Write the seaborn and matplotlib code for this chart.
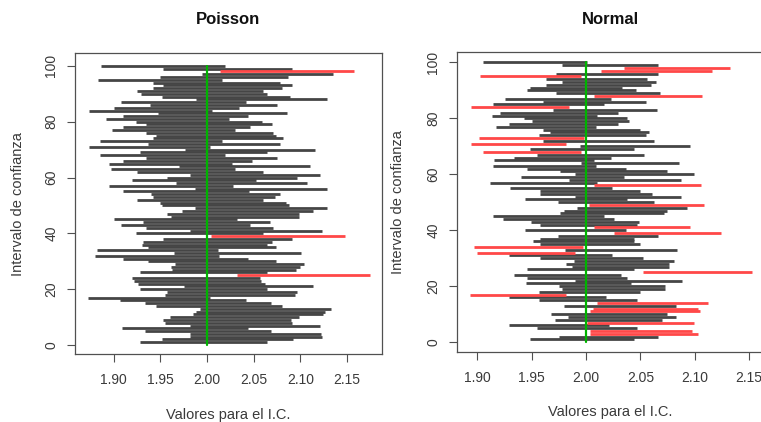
import numpy as np
import pandas as pd
import matplotlib
matplotlib.use("Agg")
import matplotlib.pyplot as plt
import seaborn as sns

# ---------------- data ----------------
idx = list(range(1, 101))

poisson_lower = [
    1.928, 1.952, 1.982, 1.982, 1.934, 1.909, 1.982, 1.955, 1.953, 1.960,
    1.985, 1.988, 1.993, 1.945, 1.934, 1.907, 1.873, 1.955, 1.957, 1.928,
    1.975, 1.926, 1.922, 1.920, 2.032, 1.928, 1.963, 1.961, 1.966, 1.937,
    1.910, 1.880, 1.965, 1.882, 1.937, 1.930, 1.932, 1.953, 2.004, 1.924,
    1.982, 1.935, 1.908, 1.932, 1.900, 1.962, 1.957, 1.973, 1.987, 1.952,
    1.950, 1.925, 1.942, 1.940, 1.910, 1.987, 1.895, 1.967, 1.920, 1.957,
    1.982, 1.925, 1.897, 1.970, 1.895, 1.910, 1.935, 1.885, 1.928, 1.976,
    1.874, 1.937, 1.885, 1.942, 1.945, 1.935, 1.898, 1.910, 1.935, 1.924,
    1.892, 1.910, 1.948, 1.874, 1.900, 1.939, 1.908, 1.988, 1.952, 1.929,
    1.925, 1.942, 1.953, 1.942, 1.883, 1.950, 1.995, 2.014, 1.953, 1.887]
poisson_upper = [
    2.064, 2.092, 2.123, 2.122, 2.069, 2.044, 2.121, 2.091, 2.090, 2.098,
    2.124, 2.126, 2.133, 2.080, 2.069, 2.042, 2.003, 2.094, 2.096, 2.064,
    2.114, 2.062, 2.058, 2.057, 2.175, 2.064, 2.095, 2.100, 2.104, 2.074,
    2.044, 2.013, 2.101, 2.012, 2.074, 2.064, 2.070, 2.091, 2.148, 2.060,
    2.123, 2.071, 2.046, 2.068, 2.032, 2.098, 2.098, 2.114, 2.128, 2.088,
    2.085, 2.060, 2.073, 2.078, 2.045, 2.128, 2.028, 2.107, 2.053, 2.096,
    2.121, 2.060, 2.030, 2.110, 2.027, 2.048, 2.075, 2.019, 2.064, 2.116,
    2.003, 2.078, 2.016, 2.081, 2.074, 2.071, 2.030, 2.046, 2.070, 2.059,
    2.024, 2.044, 2.086, 2.005, 2.034, 2.075, 2.042, 2.128, 2.089, 2.064,
    2.060, 2.080, 2.091, 2.078, 2.016, 2.087, 2.135, 2.157, 2.091, 2.019]

normal_lower = [
    1.948, 1.975, 2.004, 2.004, 1.955, 1.929, 2.001, 1.971, 1.983, 1.968,
    2.004, 2.006, 1.980, 2.010, 1.957, 1.929, 1.893, 1.957, 1.978, 1.975,
    1.945, 1.990, 1.946, 1.934, 2.052, 1.946, 1.987, 1.982, 1.989, 1.958,
    1.929, 1.900, 1.981, 1.897, 1.958, 1.951, 1.958, 1.974, 2.026, 1.944,
    2.007, 1.958, 1.949, 1.924, 1.914, 1.976, 1.980, 1.992, 2.003, 1.974,
    1.944, 1.990, 1.958, 1.958, 1.930, 2.007, 1.912, 1.984, 1.940, 1.990,
    1.976, 1.946, 1.914, 1.995, 1.915, 1.934, 1.955, 1.905, 1.948, 1.994,
    1.894, 1.960, 1.901, 1.957, 1.967, 1.960, 1.917, 1.929, 1.950, 1.943,
    1.913, 1.921, 1.970, 1.894, 1.914, 1.960, 1.925, 2.007, 1.972, 1.946,
    1.948, 1.963, 1.978, 1.963, 1.902, 1.972, 2.014, 2.035, 1.978, 1.905]
normal_upper = [
    2.044, 2.066, 2.103, 2.098, 2.047, 2.021, 2.099, 2.070, 2.083, 2.075,
    2.105, 2.103, 2.083, 2.112, 2.047, 2.018, 1.982, 2.050, 2.073, 2.073,
    2.041, 2.088, 2.038, 2.032, 2.153, 2.044, 2.076, 2.076, 2.081, 2.052,
    2.024, 1.990, 2.084, 1.997, 2.050, 2.044, 2.044, 2.066, 2.124, 2.037,
    2.096, 2.047, 2.049, 2.026, 2.017, 2.072, 2.075, 2.093, 2.109, 2.063,
    2.038, 2.087, 2.061, 2.050, 2.024, 2.106, 2.010, 2.087, 2.035, 2.099,
    2.075, 2.037, 2.009, 2.086, 2.007, 2.023, 2.053, 1.995, 2.044, 2.096,
    1.982, 2.063, 1.998, 2.055, 2.058, 2.050, 2.009, 2.029, 2.040, 2.038,
    2.010, 2.029, 2.065, 1.984, 2.017, 2.055, 2.023, 2.107, 2.068, 2.046,
    2.033, 2.060, 2.064, 2.056, 1.995, 2.066, 2.116, 2.133, 2.066, 2.001]

true_value = 2.0
x_ticks = [1.90, 1.95, 2.00, 2.05, 2.10, 2.15]
y_ticks = [0, 20, 40, 60, 80, 100]
titles = ["Poisson", "Normal"]
xlabel = "Valores para el I.C."
ylabel = "Intervalo de confianza"

# ---------------- style ----------------
sns.set_style("ticks")
plt.rcParams["font.family"] = ["Liberation Sans", "DejaVu Sans"]

W, H = 761, 422
fig = plt.figure(figsize=(W / 100, H / 100), dpi=100)

def px_axes(x0, y0, x1, y1):
    return fig.add_axes([x0 / W, 1 - y1 / H, (x1 - x0) / W, (y1 - y0) / H])

ax_l = px_axes(75, 53, 382, 354)
ax_r = px_axes(457, 52, 766, 352)

LINE_COL = "#454545"
RED_COL = "#ff4848"
GREEN_COL = "#00b400"
TXT_COL = "#3a3a3a"

def long_df(lower, upper):
    rows = []
    for i, lo, up in zip(idx, lower, upper):
        cov = lo <= true_value <= up
        rows.append({"idx": i, "value": lo, "covers": cov})
        rows.append({"idx": i, "value": up, "covers": cov})
    return pd.DataFrame(rows)

def draw(ax, lower, upper, xlim, ylim):
    df = long_df(lower, upper)
    sns.lineplot(data=df[df["covers"]], x="value", y="idx", units="idx",
                 estimator=None, color=LINE_COL, lw=2.0,
                 solid_capstyle="butt", ax=ax, legend=False)
    sns.lineplot(data=df[~df["covers"]], x="value", y="idx", units="idx",
                 estimator=None, color=RED_COL, lw=2.0,
                 solid_capstyle="butt", ax=ax, legend=False)
    gdf = pd.DataFrame({"value": [true_value, true_value], "idx": [0, 100]})
    sns.lineplot(data=gdf, x="value", y="idx", estimator=None, sort=False,
                 color=GREEN_COL, lw=1.6, ax=ax, legend=False)
    ax.set_xlim(*xlim)
    ax.set_ylim(*ylim)
    ax.set_xticks(x_ticks)
    ax.set_xticklabels([f"{t:.2f}" for t in x_ticks])
    ax.set_yticks(y_ticks)
    ax.set_yticklabels([str(t) for t in y_ticks], rotation=90, va="center")
    ax.set_xlabel("")
    ax.set_ylabel("")
    for s in ax.spines.values():
        s.set_visible(True)
        s.set_color("#505050")
        s.set_linewidth(0.9)
    ax.tick_params(axis="both", direction="out", length=6, width=0.8,
                   color="#505050", labelsize=10, labelcolor=TXT_COL)
    ax.tick_params(axis="x", pad=8)
    ax.tick_params(axis="y", pad=6)

draw(ax_l, poisson_lower, poisson_upper, (1.8587, 2.1874), (-3.2, 104.6))
draw(ax_r, normal_lower, normal_upper, (1.8812, 2.1657), (-3.5, 103.7))

def ftext(x, y, s, color=TXT_COL, **kw):
    fig.text(x / W, 1 - y / H, s, ha="center", va="center", color=color, **kw)

ftext(228, 20, titles[0], fontsize=12, fontweight="bold", color="#111111")
ftext(610, 19, titles[1], fontsize=12, fontweight="bold", color="#111111")
ftext(228, 415, xlabel, fontsize=10.5)
ftext(610, 412, xlabel, fontsize=10.5)
ftext(18, 204, ylabel, fontsize=10.5, rotation=90)
ftext(398, 202, ylabel, fontsize=10.5, rotation=90)

fig.savefig("out.png", dpi=100)
